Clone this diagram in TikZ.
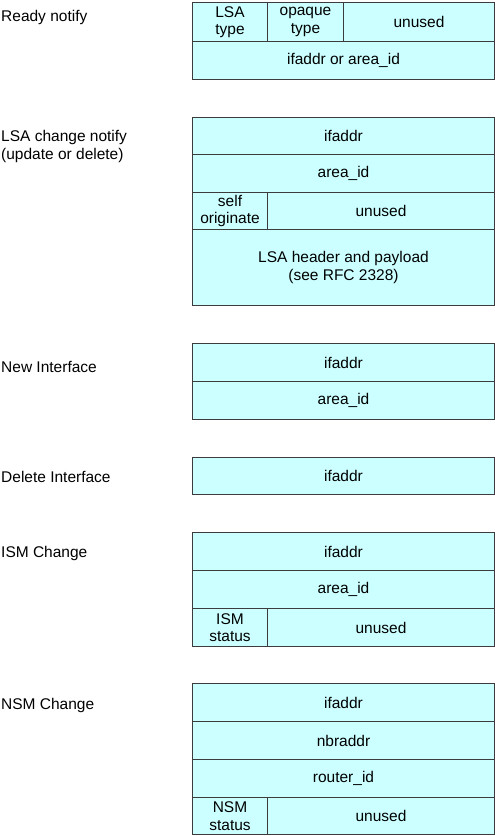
\documentclass[tikz,border=0pt]{standalone}
\usepackage{fontspec}
\setmainfont{Liberation Sans}
\usepackage{tikz}
\definecolor{cellfill}{RGB}{204,255,255}
\definecolor{cellline}{RGB}{60,60,60}
\tikzset{
  cell/.style={draw=cellline, fill=cellfill, line width=1pt, anchor=north west,
    inner sep=0pt, align=center, font=\fontsize{15.5}{17.5}\selectfont},
  msglabel/.style={anchor=base west, inner sep=0pt, align=left,
    font=\fontsize{15.5}{18}\selectfont}
}
\begin{document}
\begin{tikzpicture}[x=1pt, y=-1pt]
\newcommand{\lft}{192}
\newcommand{\splt}{267}
\newcommand{\full}{302}
\newcommand{\narrow}{75}
\newcommand{\wide}{227}
\useasboundingbox (0, 0) rectangle (495, 836);
% Ready notify
\node[msglabel] (rdy) at (1, 21) {Ready notify};
\node[cell, minimum width=\narrow, minimum height=39] (rdylsa) at (\lft, 2) {LSA\\type};
\node[cell, minimum width=76, minimum height=39] (rdyopq) at (\splt, 2) {opaque\\type};
\node[cell, minimum width=151, minimum height=39] (rdyunused) at (343, 2) {unused};
\node[cell, minimum width=\full, minimum height=38] (rdyaddr) at (\lft, 41) {ifaddr or area\_id};
% LSA change notify (base is on the last line)
\node[msglabel] (lsa) at (1, 159) {LSA change notify\\(update or delete)};
\node[cell, minimum width=\full, minimum height=37] (lsaaddr) at (\lft, 117) {ifaddr};
\node[cell, minimum width=\full, minimum height=38] (lsaarea) at (\lft, 154) {area\_id};
\node[cell, minimum width=\narrow, minimum height=37] (lsaself) at (\lft, 192) {self\\originate};
\node[cell, minimum width=\wide, minimum height=37] (lsaunused) at (\splt, 192) {unused};
\node[cell, minimum width=\full, minimum height=76] (lsahdr) at (\lft, 229) {LSA header and payload\\(see RFC 2328)};
% New Interface
\node[msglabel] (new) at (1, 372) {New Interface};
\node[cell, minimum width=\full, minimum height=38] (newaddr) at (\lft, 343) {ifaddr};
\node[cell, minimum width=\full, minimum height=38] (newarea) at (\lft, 381) {area\_id};
% Delete Interface
\node[msglabel] (del) at (1, 482) {Delete Interface};
\node[cell, minimum width=\full, minimum height=37] (deladdr) at (\lft, 457) {ifaddr};
% ISM Change
\node[msglabel] (ism) at (1, 557) {ISM Change};
\node[cell, minimum width=\full, minimum height=38] (ismaddr) at (\lft, 532) {ifaddr};
\node[cell, minimum width=\full, minimum height=38] (ismarea) at (\lft, 570) {area\_id};
\node[cell, minimum width=\narrow, minimum height=38] (ismstat) at (\lft, 608) {ISM\\status};
\node[cell, minimum width=\wide, minimum height=38] (ismunused) at (\splt, 608) {unused};
% NSM Change
\node[msglabel] (nsm) at (1, 709) {NSM Change};
\node[cell, minimum width=\full, minimum height=38] (nsmaddr) at (\lft, 683) {ifaddr};
\node[cell, minimum width=\full, minimum height=38] (nsmnbr) at (\lft, 721) {nbraddr};
\node[cell, minimum width=\full, minimum height=38] (nsmrtr) at (\lft, 759) {router\_id};
\node[cell, minimum width=\narrow, minimum height=37] (nsmstat) at (\lft, 797) {NSM\\status};
\node[cell, minimum width=\wide, minimum height=37] (nsmunused) at (\splt, 797) {unused};
\end{tikzpicture}
\end{document}
